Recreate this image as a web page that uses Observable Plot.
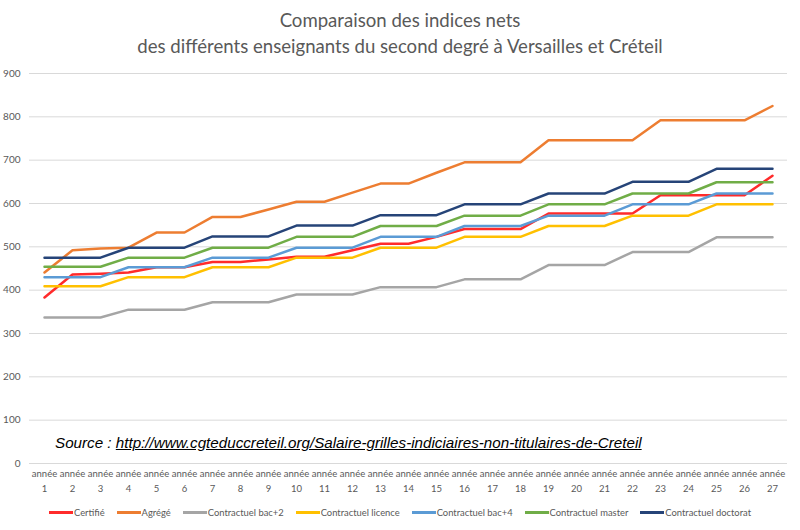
<!DOCTYPE html>
<html><head><meta charset="utf-8">
<script src="https://cdn.jsdelivr.net/npm/d3@7"></script>
<script src="https://cdn.jsdelivr.net/npm/@observablehq/plot@0.6"></script>
<style>
body{margin:0;background:#fff;width:800px;height:530px;position:relative;overflow:hidden;font-family:Lato,sans-serif}
#title{position:absolute;top:7px;left:0;width:800px;text-align:center;font-size:18.6px;line-height:26px;color:#595959}
#chart{position:absolute;top:60px;left:0}
#source{position:absolute;left:55px;top:434px;font-family:"Liberation Sans",Arial,sans-serif;font-style:italic;font-size:15.2px;color:#000;white-space:nowrap}
#legend{position:absolute;top:507px;left:0;width:800px;display:flex;justify-content:center;gap:12px;font-size:9.4px;color:#595959}
.item{display:flex;align-items:center}
.sw{width:24px;height:2.5px;margin-right:1px}
</style>
</head><body>
<div id="title">Comparaison des indices nets<br>des différents enseignants du second degré à Versailles et Créteil</div>
<div id="chart"></div>
<div id="source">Source : <u>http://www.cgteduccreteil.org/Salaire-grilles-indiciaires-non-titulaires-de-Creteil</u></div>
<div id="legend"></div>
<script>
const years = [1,2,3,4,5,6,7,8,9,10,11,12,13,14,15,16,17,18,19,20,21,22,23,24,25,26,27];
const yTicks = [0,100,200,300,400,500,600,700,800,900];
const names = ["Certifié","Agrégé","Contractuel bac+2","Contractuel licence","Contractuel bac+4","Contractuel master","Contractuel doctorat"];
const colors = ["#ff2b2b","#ed7d31","#a5a5a5","#ffc000","#5b9bd5","#70ad47","#264478"];
const certifie = [383,436,438,441,453,453,465,465,471,477,477,492,507,507,523,541,541,541,577,577,577,577,619,619,619,619,664];
const agrege   = [441,492,496,498,533,533,569,569,586,604,604,625,646,646,671,695,695,695,746,746,746,746,792,792,792,792,825];
const bac2     = [337,337,337,355,355,355,372,372,372,390,390,390,407,407,407,425,425,425,458,458,458,488,488,488,522,522,522];
const licence  = [409,409,409,430,430,430,453,453,453,475,475,475,498,498,498,523,523,523,548,548,548,572,572,572,598,598,598];
const bac4     = [430,430,430,453,453,453,475,475,475,498,498,498,523,523,523,548,548,548,572,572,572,598,598,598,623,623,623];
const master   = [454,454,454,475,475,475,498,498,498,523,523,523,548,548,548,572,572,572,598,598,598,623,623,623,649,649,649];
const doctorat = [475,475,475,498,498,498,524,524,524,549,549,549,573,573,573,598,598,598,623,623,623,650,650,650,680,680,680];
const seriesValues = [certifie,agrege,bac2,licence,bac4,master,doctorat];

const data = names.flatMap((n,k)=>years.map((y,i)=>({year:y,value:seriesValues[k][i],name:n})));

const chart = Plot.plot({
  width:800,height:440,marginTop:13,marginBottom:37,marginLeft:29,marginRight:13,
  style:{fontFamily:"Lato, sans-serif",background:"transparent"},
  x:{type:"point",domain:years,padding:0.5},
  y:{domain:[0,900]},
  color:{domain:names,range:colors},
  marks:[
    Plot.gridY(yTicks,{stroke:"#d9d9d9",strokeOpacity:1}),
    Plot.axisY(yTicks,{tickSize:0,tickPadding:9,fontSize:10,color:"#595959",label:null}),
    Plot.axisX({tickSize:0,tickPadding:7,tickFormat:()=>"année",label:null,fontSize:9.5,color:"#595959"}),
    Plot.axisX({tickSize:0,tickPadding:22,tickFormat:d=>String(d),label:null,fontSize:9.5,color:"#595959"}),
    Plot.line(data,{x:"year",y:"value",stroke:"name",z:"name",strokeWidth:2.5})
  ]
});
document.getElementById("chart").appendChild(chart);

const leg = document.getElementById("legend");
names.forEach((n,i)=>{
  const it=document.createElement("div");it.className="item";
  const sw=document.createElement("span");sw.className="sw";sw.style.background=colors[i];
  const t=document.createElement("span");t.textContent=n;
  it.appendChild(sw);it.appendChild(t);leg.appendChild(it);
});
</script>
</body></html>
